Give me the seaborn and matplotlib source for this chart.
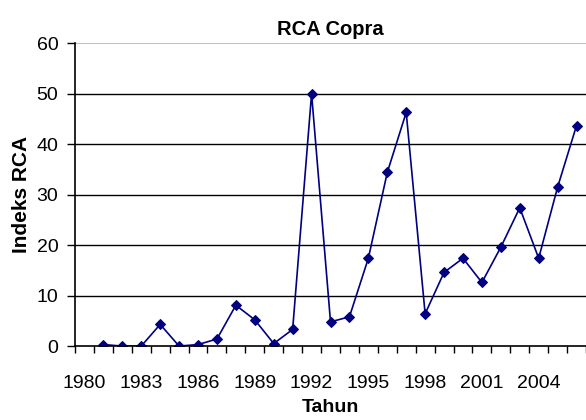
import numpy as np
import pandas as pd
import seaborn as sns
import matplotlib.pyplot as plt
from matplotlib.ticker import FixedLocator

years = list(range(1981, 2007))
rca = [0.3, 0.0, 0.0, 4.3, 0.0, 0.3, 1.4, 8.1, 5.2, 0.5, 3.3, 50.0,
       4.8, 5.8, 17.4, 34.4, 46.3, 6.4, 14.6, 17.4, 12.6, 19.6, 27.4,
       17.4, 31.5, 43.7]
label_years = [1980, 1983, 1986, 1989, 1992, 1995, 1998, 2001, 2004]

df = pd.DataFrame({"Tahun": years, "RCA": rca})

sns.set_style("white")
plt.rcParams['font.family'] = ['Liberation Sans', 'DejaVu Sans']
plt.rcParams['text.color'] = 'black'
plt.rcParams['axes.labelcolor'] = 'black'
plt.rcParams['xtick.color'] = 'black'
plt.rcParams['ytick.color'] = 'black'

fig = plt.figure(figsize=(5.86, 4.2), dpi=100)
ax = fig.add_axes([0.128, 0.176, 0.872, 0.721])

sns.lineplot(data=df, x="Tahun", y="RCA", ax=ax, color="#000080",
             marker="D", markersize=5.5, markeredgecolor="#000080",
             linewidth=1.2)

ax.set_xlim(1979.5, 2006.5)
ax.set_ylim(0, 60)
ax.set_yticks(range(0, 61, 10))
ax.set_xticks(label_years)
ax.set_xticklabels([str(y) for y in label_years])
ax.xaxis.set_minor_locator(FixedLocator(np.arange(1979.5, 2007, 1)))
ax.tick_params(axis='x', which='major', length=0, labelsize=14, pad=21)
ax.tick_params(axis='x', which='minor', length=5, width=1, color='black',
               direction='out', bottom=True)
ax.tick_params(axis='y', length=6, width=1, color='black', direction='out',
               left=True, labelsize=14, pad=6)

for v in range(10, 51, 10):
    ax.axhline(v, color='black', linewidth=1, zorder=0)
ax.axhline(60, color='#c0c0c0', linewidth=1.5, zorder=0)

for s in ['top', 'right']:
    ax.spines[s].set_visible(False)
ax.spines['left'].set_color('black')
ax.spines['bottom'].set_color('black')
ax.spines['left'].set_linewidth(1.2)
ax.spines['bottom'].set_linewidth(1.2)

ax.set_title("RCA Copra", fontsize=14.5, fontweight='bold', pad=6)
ax.set_xlabel("Tahun", fontsize=14, fontweight='bold', labelpad=5)
ax.set_ylabel("Indeks RCA", fontsize=15, fontweight='bold', labelpad=4)

fig.savefig("out.png", dpi=100)
